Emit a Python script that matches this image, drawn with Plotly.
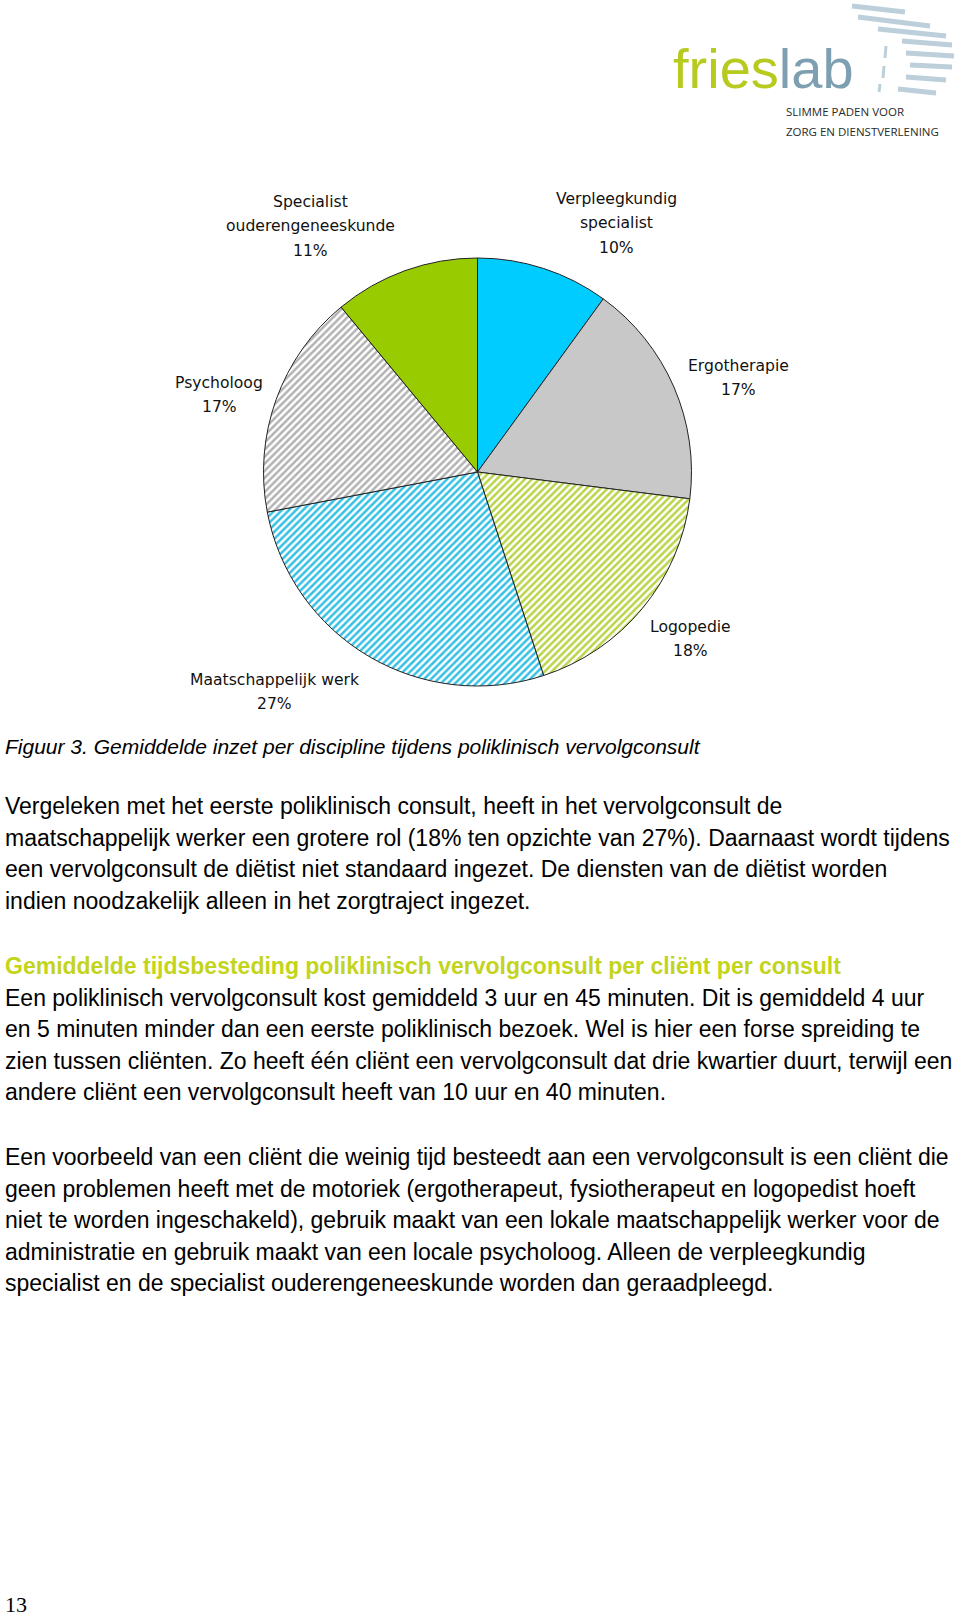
import plotly.graph_objects as go

W, H = 960, 1616

# ---------------- data ----------------
disciplines = ["Verpleegkundig specialist", "Ergotherapie", "Logopedie",
               "Maatschappelijk werk", "Psycholoog", "Specialist ouderengeneeskunde"]
label_lines = [["Verpleegkundig", "specialist"], ["Ergotherapie"], ["Logopedie"],
               ["Maatschappelijk werk"], ["Psycholoog"], ["Specialist", "ouderengeneeskunde"]]
shares = [10, 17, 18, 27, 17, 11]

caption = "Figuur 3. Gemiddelde inzet per discipline tijdens poliklinisch vervolgconsult"
para1 = [
    "Vergeleken met het eerste poliklinisch consult, heeft in het vervolgconsult de",
    "maatschappelijk werker een grotere rol (18% ten opzichte van 27%). Daarnaast wordt tijdens",
    "een vervolgconsult de diëtist niet standaard ingezet. De diensten van de diëtist worden",
    "indien noodzakelijk alleen in het zorgtraject ingezet.",
]
heading = "Gemiddelde tijdsbesteding poliklinisch vervolgconsult per cliënt per consult"
para2 = [
    "Een poliklinisch vervolgconsult kost gemiddeld 3 uur en 45 minuten. Dit is gemiddeld 4 uur",
    "en 5 minuten minder dan een eerste poliklinisch bezoek. Wel is hier een forse spreiding te",
    "zien tussen cliënten. Zo heeft één cliënt een vervolgconsult dat drie kwartier duurt, terwijl een",
    "andere cliënt een vervolgconsult heeft van 10 uur en 40 minuten.",
]
para3 = [
    "Een voorbeeld van een cliënt die weinig tijd besteedt aan een vervolgconsult is een cliënt die",
    "geen problemen heeft met de motoriek (ergotherapeut, fysiotherapeut en logopedist hoeft",
    "niet te worden ingeschakeld), gebruik maakt van een lokale maatschappelijk werker voor de",
    "administratie en gebruik maakt van een locale psycholoog. Alleen de verpleegkundig",
    "specialist en de specialist ouderengeneeskunde worden dan geraadpleegd.",
]
page_number = "13"

# ---------------- styles / layout ----------------
slice_colors = ["#00CCFF", "#C8C8C8", "#FFFFFF", "#FFFFFF", "#FFFFFF", "#99CC00"]
pattern_shapes = ["", "", "/", "/", "/", ""]
pattern_colors = ["#00CCFF", "#C8C8C8", "#B8D448", "#35C0E4", "#B2B2B2", "#99CC00"]
label_anchor_px = [(616, 199), (738, 366), (690, 627), (274, 680), (219, 383), (310, 202)]
LABEL_STEP = 24.3

PIE_CX, PIE_CY, PIE_R = 477.5, 472, 214

BODY_FONT = "Liberation Sans, Arial, sans-serif"
BODY_SIZE = 23
LINE = 31.6


def px(x, y):
    return x / W, 1 - y / H


fig = go.Figure()

fig.add_trace(go.Pie(
    labels=disciplines,
    values=shares,
    sort=False,
    direction="clockwise",
    rotation=0,
    textinfo="none",
    hoverinfo="label+percent",
    marker=dict(
        colors=slice_colors,
        line=dict(color="#222222", width=1),
        pattern=dict(shape=pattern_shapes, fgcolor=pattern_colors,
                     size=5, solidity=0.5),
    ),
    domain=dict(x=[(PIE_CX - PIE_R) / W, (PIE_CX + PIE_R) / W],
                y=[1 - (PIE_CY + PIE_R) / H, 1 - (PIE_CY - PIE_R) / H]),
    showlegend=False,
))

annotations = []

def add_text(x, y, text, size, color="#000000", family=BODY_FONT, xanchor="left", **kw):
    ax, ay = px(x, y)
    annotations.append(dict(x=ax, y=ay, xref="paper", yref="paper", text=text,
                            showarrow=False, xanchor=xanchor, yanchor="middle",
                            font=dict(size=size, color=color, family=family),
                            borderpad=0, **kw))

# pie labels
for lines, v, (lx, ly) in zip(label_lines, shares, label_anchor_px):
    for k, t in enumerate(lines + [f"{v}%"]):
        add_text(lx, ly + k * LABEL_STEP, t, 15.6, color="#111111",
                 family="DejaVu Sans, Verdana, sans-serif", xanchor="center")

# caption
add_text(4, 746, f"<i>{caption}</i>", 21)

# paragraph 1
for k, t in enumerate(para1):
    add_text(4, 806 + k * LINE, t, BODY_SIZE)

# heading
add_text(4, 966, f"<b>{heading}</b>", BODY_SIZE, color="#C3D41C")
for k, t in enumerate(para2):
    add_text(4, 966 + (k + 1) * LINE, t, BODY_SIZE)

for k, t in enumerate(para3):
    add_text(4, 1157 + k * LINE, t, BODY_SIZE)

# page number
add_text(4, 1604, page_number, 22, family="Liberation Serif, Times New Roman, serif")

# logo
add_text(763, 68, "<span style='color:#B7CB1F'>fries</span><span style='color:#7E9FB2'>lab</span>",
         56, xanchor="center")
add_text(785, 111, "SLIMME PADEN VOOR", 11.5, color="#2a2a2a", family="Open Sans, sans-serif")
add_text(785, 131, "ZORG EN DIENSTVERLENING", 11.5, color="#2a2a2a", family="Open Sans, sans-serif")

# decorative logo wing (light bars)
wing = [((852, 6), (905, 12)), ((858, 17), (930, 26)), ((878, 29), (946, 36)),
        ((902, 41), (952, 45)), ((906, 53), (954, 56)), ((910, 65), (952, 67)),
        ((906, 77), (946, 80)), ((898, 89), (936, 93))]
shapes = []
for (x0, y0), (x1, y1) in wing:
    a0, b0 = px(x0, y0)
    a1, b1 = px(x1, y1)
    shapes.append(dict(type="line", xref="paper", yref="paper", x0=a0, y0=b0, x1=a1, y1=b1,
                       line=dict(color="#BCCFDA", width=5)))
for (x0, y0), (x1, y1) in [((886, 46), (885, 58)), ((884, 66), (883, 78)), ((880, 84), (879, 92))]:
    a0, b0 = px(x0, y0)
    a1, b1 = px(x1, y1)
    shapes.append(dict(type="line", xref="paper", yref="paper", x0=a0, y0=b0, x1=a1, y1=b1,
                       line=dict(color="#BCCFDA", width=3)))

fig.update_layout(
    width=W, height=H, autosize=False,
    margin=dict(l=0, r=0, t=0, b=0, pad=0),
    paper_bgcolor="#FFFFFF", plot_bgcolor="#FFFFFF",
    annotations=annotations,
    shapes=shapes,
    showlegend=False,
)

fig.write_html("out.html")
